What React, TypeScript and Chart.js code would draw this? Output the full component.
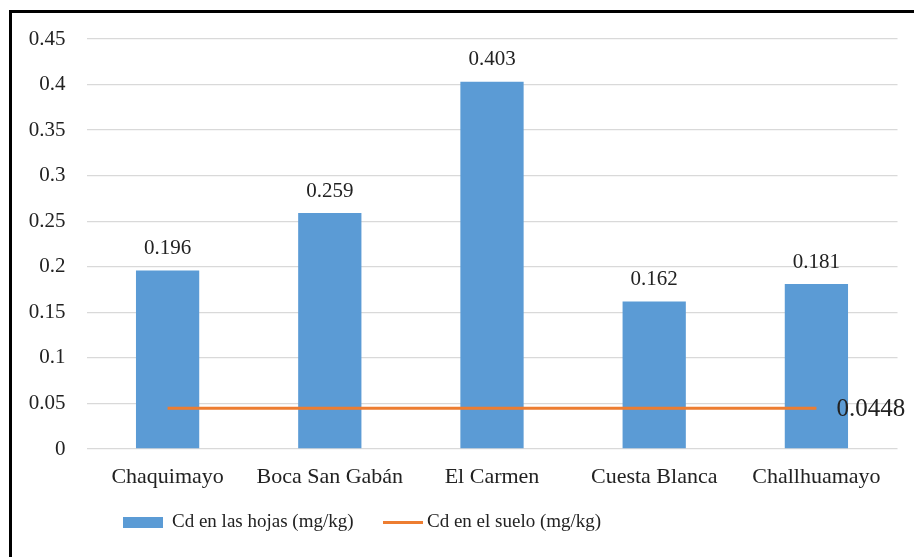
import React, { useEffect, useRef } from "react";
import { Chart, registerables } from "chart.js";

Chart.register(...registerables);

const sites = ["Chaquimayo", "Boca San Gabán", "El Carmen", "Cuesta Blanca", "Challhuamayo"];
const leafCd = [0.196, 0.259, 0.403, 0.162, 0.181];
const soilCd = [0.0448, 0.0448, 0.0448, 0.0448, 0.0448];
const yTicks = [0, 0.05, 0.1, 0.15, 0.2, 0.25, 0.3, 0.35, 0.4, 0.45];
const seriesNames = ["Cd en las hojas (mg/kg)", "Cd en el suelo (mg/kg)"];

const BLUE = "#5B9BD5";
const ORANGE = "#ED7D31";
const FONT = "'Liberation Serif', 'Times New Roman', serif";

const valueLabels = {
  id: "valueLabels",
  afterDatasetsDraw(chart: any) {
    const ctx = chart.ctx;
    ctx.save();
    ctx.fillStyle = "#222";
    ctx.textBaseline = "middle";
    const barMeta = chart.getDatasetMeta(0);
    ctx.font = `21px ${FONT}`;
    ctx.textAlign = "center";
    barMeta.data.forEach((el: any, i: number) => {
      ctx.fillText(String(leafCd[i]), el.x, el.y - 22);
    });
    const lineMeta = chart.getDatasetMeta(1);
    const last = lineMeta.data[lineMeta.data.length - 1];
    if (last) {
      ctx.font = `25px ${FONT}`;
      ctx.textAlign = "left";
      ctx.fillText(String(soilCd[soilCd.length - 1]), last.x + 20, last.y + 1);
    }
    ctx.restore();
  },
};

const bottomLegend = {
  id: "bottomLegend",
  afterDraw(chart: any) {
    const ctx = chart.ctx;
    const y = 522.5;
    ctx.save();
    ctx.font = `19px ${FONT}`;
    ctx.textBaseline = "middle";
    ctx.textAlign = "left";
    ctx.fillStyle = BLUE;
    ctx.fillRect(123, y - 5.5, 40, 11);
    ctx.fillStyle = "#222";
    ctx.fillText(seriesNames[0], 172, y);
    ctx.strokeStyle = ORANGE;
    ctx.lineWidth = 3;
    ctx.beginPath();
    ctx.moveTo(383, y);
    ctx.lineTo(423, y);
    ctx.stroke();
    ctx.fillStyle = "#222";
    ctx.fillText(seriesNames[1], 427, y);
    ctx.restore();
  },
};

export default function App() {
  const canvasRef = useRef<HTMLCanvasElement | null>(null);

  useEffect(() => {
    if (!canvasRef.current) return;
    const chart = new Chart(canvasRef.current, {
      type: "bar",
      data: {
        labels: sites,
        datasets: [
          {
            type: "bar",
            label: seriesNames[0],
            data: leafCd,
            backgroundColor: BLUE,
            categoryPercentage: 1,
            barPercentage: 0.39,
            order: 2,
          },
          {
            type: "line",
            label: seriesNames[1],
            data: soilCd,
            borderColor: ORANGE,
            borderWidth: 3,
            pointRadius: 0,
            fill: false,
            order: 1,
          } as any,
        ],
      },
      options: {
        responsive: false,
        animation: false,
        devicePixelRatio: 1,
        layout: { padding: { top: 39, right: 16.5, left: 0, bottom: 0 } },
        plugins: {
          legend: { display: false },
          tooltip: { enabled: false },
        },
        scales: {
          x: {
            grid: { display: false, drawTicks: false },
            border: { display: false },
            ticks: {
              color: "#222",
              font: { family: FONT, size: 22 },
              padding: 15,
              maxRotation: 0,
              autoSkip: false,
            },
            afterFit: (scale: any) => {
              scale.height = 108;
            },
          },
          y: {
            min: 0,
            max: 0.45,
            afterBuildTicks: (scale: any) => {
              scale.ticks = yTicks.map((v) => ({ value: v }));
            },
            grid: { color: "#D9D9D9", lineWidth: 1.3, drawTicks: false },
            border: { display: false },
            ticks: {
              color: "#222",
              font: { family: FONT, size: 21 },
              padding: 21,
              callback: (v: any) => String(Number(Number(v).toFixed(2))),
            },
            afterFit: (scale: any) => {
              scale.width = 86.5;
            },
          },
        },
      },
      plugins: [valueLabels, bottomLegend],
    });
    return () => chart.destroy();
  }, []);

  return (
    <div style={{ position: "absolute", left: 0, top: 0, width: 914, height: 557, background: "#fff", overflow: "hidden" }}>
      <canvas ref={canvasRef} width={914} height={557} style={{ display: "block" }} />
      <div
        style={{
          position: "absolute",
          left: 9,
          top: 10,
          width: 920,
          height: 560,
          borderTop: "3px solid #000",
          borderLeft: "3px solid #000",
          pointerEvents: "none",
        }}
      />
    </div>
  );
}
